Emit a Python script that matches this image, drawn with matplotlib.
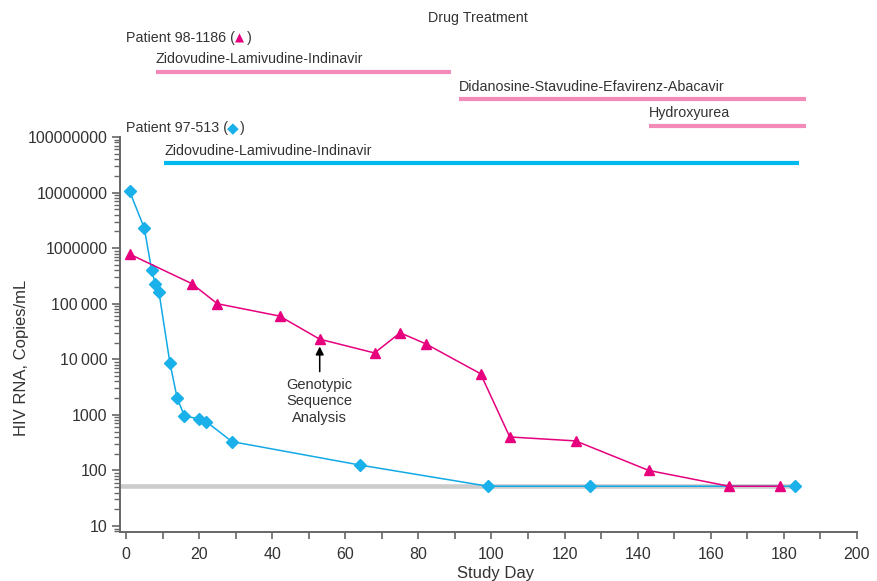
import numpy as np
import matplotlib
matplotlib.use('Agg')
import matplotlib.pyplot as plt
import matplotlib.transforms as mtransforms
from matplotlib.ticker import FixedLocator, NullFormatter

plt.rcParams['font.family'] = ['Liberation Sans', 'DejaVu Sans']

# Patient 97-513 (diamonds)
day_97 = [1, 5, 7, 8, 9, 12, 14, 16, 20, 22, 29, 64, 99, 127, 183]
rna_97 = [10500000, 2300000, 410000, 230000, 165000, 8700, 2000, 950, 850, 750, 330, 125, 52, 52, 52]

# Patient 98-1186 (triangles)
day_98 = [1, 18, 25, 42, 53, 68, 75, 82, 97, 105, 123, 143, 165, 179]
rna_98 = [780000, 230000, 100000, 60000, 23000, 13000, 30000, 19000, 5500, 400, 340, 100, 52, 52]

# detection limit
limit_rna = 52
limit_days = [-2, 183]

# drug periods (start day, end day)
drug_98 = [("Zidovudine-Lamivudine-Indinavir", 8.2, 89),
           ("Didanosine-Stavudine-Efavirenz-Abacavir", 91, 186),
           ("Hydroxyurea", 143, 186)]
drug_97 = [("Zidovudine-Lamivudine-Indinavir", 10.4, 184)]

ytick_vals = [10, 100, 1000, 10000, 100000, 1000000, 10000000, 100000000]
ytick_labels = ["10", "100", "1000", "10\u2009000", "100\u2009000", "1000000", "10000000", "100000000"]

pink = '#e6007e'
blue = '#12a9e6'
pink_bar = '#f38bb9'
blue_bar = '#00b9ef'
txt = '#333333'
axc = '#666666'

fig = plt.figure(figsize=(8.78, 5.81), dpi=100)
ax = fig.add_axes([120/878, (581-532)/581, (857-120)/878, (532-137)/581])

ax.set_yscale('log')
ax.set_ylim(7.8, 1e8)
ax.set_xlim(-1.64, 200)

ax.plot(limit_days, [limit_rna, limit_rna], color='#cccccc', lw=3.3, zorder=1, solid_capstyle='butt')

ax.plot(day_97, rna_97, color=blue, lw=1.1, marker='D', ms=6.5, mfc='#1ab0ea', mec='#1ab0ea', zorder=3)
ax.plot(day_98, rna_98, color=pink, lw=1.1, marker='^', ms=7.5, mfc=pink, mec=pink, zorder=4)

# axes styling
for s in ['top', 'right']:
    ax.spines[s].set_visible(False)
for s in ['left', 'bottom']:
    ax.spines[s].set_color(axc)
    ax.spines[s].set_linewidth(1.4)

ax.yaxis.set_major_locator(FixedLocator(ytick_vals))
ax.set_yticklabels(ytick_labels)
minors = [m * 10**e for e in range(0, 8) for m in range(2, 10)]
ax.yaxis.set_minor_locator(FixedLocator(minors))
ax.yaxis.set_minor_formatter(NullFormatter())
ax.set_xticks(np.arange(0, 201, 20))
ax.set_xticks(np.arange(10, 200, 20), minor=True)

ax.tick_params(axis='y', which='major', length=6, width=1.2, color=axc, labelsize=11.5, labelcolor=txt, pad=3)
ax.tick_params(axis='y', which='minor', length=4, width=1.0, color=axc)
ax.tick_params(axis='x', which='both', length=5, width=1.2, color=axc, labelsize=11.5, labelcolor=txt, pad=6)

ax.set_xlabel('Study Day', fontsize=12, color=txt, labelpad=0)
ax.xaxis.set_label_coords((496-120)/737, -0.085)
ax.set_ylabel('HIV RNA, Copies/mL', fontsize=12, color=txt)
ax.yaxis.set_label_coords(-0.124, 0.44)

# annotation
ax.annotate('', xy=(53, 17000), xytext=(53, 6000),
            arrowprops=dict(arrowstyle='-|>', color='black', lw=1.1, mutation_scale=12,
                            shrinkA=0, shrinkB=0))
ax.text(53, 4700, 'Genotypic\nSequence\nAnalysis', ha='center', va='top', fontsize=10.5,
        color=txt, linespacing=1.25)

# drug treatment header area
tr = mtransforms.blended_transform_factory(ax.transData, ax.transAxes)
kw = dict(transform=tr, fontsize=10.3, color=txt, clip_on=False)

ax.text(96.3, 1.302, 'Drug Treatment', ha='center', va='center', **kw)

t1 = ax.text(0, 1.2506, 'Patient 98-1186 (', ha='left', va='center', **kw)
ax.annotate('\u25B2', xy=(1, 0), xycoords=t1, va='bottom', ha='left', fontsize=8.5, color=pink,
            family='DejaVu Sans')
ax.annotate(')', xy=(1, 0), xycoords=t1, xytext=(9, 0), textcoords='offset points',
            va='bottom', ha='left', fontsize=10.3, color=txt)

t2 = ax.text(0, 1.0228, 'Patient 97-513 (', ha='left', va='center', **kw)
ax.annotate('\u25C6', xy=(1, 0), xycoords=t2, xytext=(-0.5, -0.5), textcoords='offset points',
            va='bottom', ha='left', fontsize=11, color='#1ab0ea', family='DejaVu Sans')
ax.annotate(')', xy=(1, 0), xycoords=t2, xytext=(8.5, 0), textcoords='offset points',
            va='bottom', ha='left', fontsize=10.3, color=txt)

label_y_98 = [1.1975, 1.1266, 1.0608]
bar_y_98 = [1.1646, 1.0962, 1.0278]
for (name, a, b), ly, by in zip(drug_98, label_y_98, bar_y_98):
    ax.text(a, ly, name, ha='left', va='center', **kw)
    ax.plot([a, b], [by, by], transform=tr, color=pink_bar, lw=3, clip_on=False, solid_capstyle='butt')

for name, a, b in drug_97:
    ax.text(a, 0.9646, name, ha='left', va='center', **kw)
    ax.plot([a, b], [0.9342, 0.9342], transform=tr, color=blue_bar, lw=3, clip_on=False, solid_capstyle='butt')

fig.savefig('out.png', dpi=100)
